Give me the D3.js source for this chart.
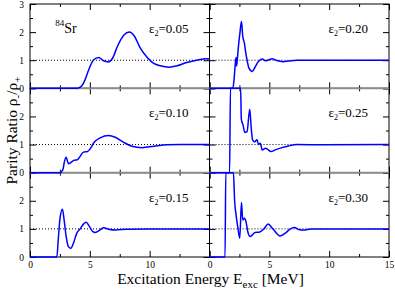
<!DOCTYPE html>
<html>
<head>
<meta charset="utf-8">
<script src="https://cdn.jsdelivr.net/npm/d3@7"></script>
<style>
  body { margin: 0; background: #fff; }
  text { font-family: "Liberation Serif", "Times New Roman", serif; }
</style>
</head>
<body>
<div id="chart"></div>
<script>
// # Data: energy [MeV] and parity ratio for each deformation.
const epsLabels = ['0.05', '0.20', '0.10', '0.25', '0.15', '0.30']

const e05 = [0, 3.8, 4.1, 4.35, 4.6, 4.9, 5.3, 5.75, 6.1, 6.55, 6.9, 7.3, 7.85, 8.3, 8.7, 9.22, 9.78, 10.34, 10.9, 11.6, 12.3, 13.1, 14.0, 14.7, 15]
const r05 = [0, 0, 0.02, 0.1, 0.3, 0.65, 1.01, 1.1, 0.99, 0.94, 1.07, 1.49, 1.9, 2.0, 1.87, 1.43, 1.11, 0.89, 0.8, 0.75, 0.8, 0.92, 1.01, 1.05, 1.04]

const e10 = [0, 2.5, 2.74, 2.88, 3.02, 3.21, 3.44, 3.69, 3.96, 4.19, 4.47, 4.8, 5.08, 5.36, 5.87, 6.57, 7.12, 7.82, 8.52, 9.36, 10.34, 11.45, 12.57, 15]
const r10 = [0, 0, 0.1, 0.4, 0.55, 0.32, 0.37, 0.44, 0.46, 0.58, 0.73, 0.75, 0.88, 1.08, 1.24, 1.32, 1.26, 1.08, 0.94, 0.89, 0.94, 0.99, 1.0, 1.0]

const e15 = [0, 2.24, 2.38, 2.51, 2.71, 2.85, 3.02, 3.21, 3.41, 3.63, 3.91, 4.19, 4.47, 4.69, 4.97, 5.25, 5.45, 5.7, 6.15, 6.57, 7.12, 8.1, 15]
const r15 = [0, 0, 0.73, 1.38, 1.7, 1.32, 0.73, 0.37, 0.31, 0.49, 0.85, 1.0, 1.17, 1.24, 1.08, 0.9, 0.87, 0.92, 1.04, 0.99, 0.96, 0.99, 1.0]

const e20 = [0, 1.95, 2.05, 2.15, 2.22, 2.26, 2.32, 2.42, 2.55, 2.67, 2.78, 2.92, 3.0, 3.14, 3.3, 3.58, 3.8, 4.08, 4.42, 4.67, 4.92, 5.25, 5.55, 6.17, 6.6, 7.3, 15]
const r20 = [0, 0, 0.3, 0.85, 1.1, 0.8, 1.0, 1.5, 2.0, 2.38, 1.85, 1.6, 1.35, 1.0, 0.72, 0.6, 0.75, 0.95, 1.04, 0.98, 1.01, 1.05, 1.0, 0.95, 0.97, 1.0, 1.0]

const e25 = [0, 1.68, 1.75, 2.6, 2.66, 2.8, 2.95, 3.14, 3.36, 3.5, 3.6, 3.78, 3.97, 4.1, 4.25, 4.4, 4.67, 4.86, 5.14, 5.5, 6.06, 6.6, 7.3, 9.5, 15]
const r25 = [0, 0, 3.0, 3.0, 1.9, 1.7, 1.43, 1.46, 2.26, 1.52, 1.17, 1.1, 1.17, 1.0, 1.05, 0.81, 0.87, 0.83, 0.75, 0.81, 0.89, 0.95, 1.0, 0.99, 1.0]

const e30 = [0, 1.3, 1.36, 2.0, 2.1, 2.2, 2.36, 2.53, 2.67, 2.78, 2.92, 3.05, 3.2, 3.4, 3.8, 4.2, 4.55, 4.9, 5.3, 5.9, 6.4, 6.75, 7.1, 7.5, 7.85, 8.5, 15]
const r30 = [0, 0, 3.0, 3.0, 2.0, 1.56, 1.08, 0.67, 1.94, 1.32, 1.38, 1.26, 0.9, 0.73, 0.87, 0.89, 1.0, 1.17, 1.0, 0.75, 0.87, 1.0, 1.05, 0.97, 0.96, 1.0, 1.0]

const xMajor = [0, 5, 10, 15]
const xMinor = [2.5, 7.5, 12.5]
const yMajor = [0, 1, 2, 3]
const yMinor = [0.5, 1.5, 2.5]

// # Layout.
const width = 395, height = 291
const plotLeft = 30, plotRight = 389, plotTop = 4, plotBottom = 257
const colW = (plotRight - plotLeft) / 2
const rowH = (plotBottom - plotTop) / 3

const series = [[e05, r05], [e20, r20], [e10, r10], [e25, r25], [e15, r15], [e30, r30]]
const panels = series.map((s, i) => {
    let col = i % 2, row = Math.floor(i / 2)
    let x = d3.scaleLinear().domain([0, 15]).range([plotLeft + col * colW, plotLeft + (col + 1) * colW])
    let y = d3.scaleLinear().domain([0, 3]).range([plotTop + (row + 1) * rowH, plotTop + row * rowH])
    return {col, row, x, y, eps: epsLabels[i], pts: d3.zip(s[0], s[1])}
})

const svg = d3.select('#chart')
    .append('svg')
    .attr('width', width)
    .attr('height', height)

// # Frames and inward ticks.
panels.forEach(p => {
    let g = svg.append('g')
    let [x0, x1] = p.x.range()
    let [y0, y1] = p.y.range()
    let axes = [
        [d3.axisBottom(p.x), `translate(0,${y0})`, xMajor, xMinor],
        [d3.axisTop(p.x),    `translate(0,${y1})`, xMajor, xMinor],
        [d3.axisLeft(p.y),   `translate(${x0},0)`, yMajor, yMinor],
        [d3.axisRight(p.y),  `translate(${x1},0)`, yMajor, yMinor],
    ]
    axes.forEach(([ax, tr, major, minor]) => {
        g.append('g').attr('transform', tr)
            .call(ax.tickValues(major).tickSize(-6).tickFormat(''))
            .call(a => a.select('.domain').remove())
        g.append('g').attr('transform', tr)
            .call(ax.tickValues(minor).tickSize(-3).tickFormat(''))
            .call(a => a.select('.domain').remove())
    })
    g.selectAll('.tick line').attr('stroke', '#000').attr('stroke-width', 1)

    // # Tick labels only on outer edges.
    if (p.row == 2) {
        let vals = p.col == 0 ? [0, 5, 10] : [0, 5, 10, 15]
        g.append('g').attr('transform', `translate(0,${y0})`)
            .call(d3.axisBottom(p.x).tickValues(vals).tickSize(0).tickPadding(4).tickFormat(d3.format('d')))
            .call(a => a.select('.domain').remove())
            .selectAll('text').attr('font-family', '"Liberation Serif", serif').attr('font-size', 9.5)
    }
    if (p.col == 0) {
        let vals = p.row == 0 ? [0, 1, 2, 3] : [0, 1, 2]
        g.append('g').attr('transform', `translate(${x0},0)`)
            .call(d3.axisLeft(p.y).tickValues(vals).tickSize(0).tickPadding(6).tickFormat(d3.format('d')))
            .call(a => a.select('.domain').remove())
            .selectAll('text').attr('font-family', '"Liberation Serif", serif').attr('font-size', 9.5)
    }

    g.append('rect')
        .attr('x', x0).attr('y', y1)
        .attr('width', x1 - x0).attr('height', y0 - y1)
        .attr('fill', 'none').attr('stroke', '#000').attr('stroke-width', 1)
})

// # Zero lines (grey) and ratio = 1 reference (dotted).
panels.forEach(p => {
    let [x0, x1] = p.x.range()
    if (p.row < 2) {
        svg.append('line')
            .attr('x1', x0).attr('x2', x1)
            .attr('y1', p.y(0)).attr('y2', p.y(0))
            .attr('stroke', '#8c8c8c').attr('stroke-width', 1.6)
    }
    svg.append('line')
        .attr('x1', x0).attr('x2', x1)
        .attr('y1', p.y(1)).attr('y2', p.y(1))
        .attr('stroke', '#000').attr('stroke-width', 1)
        .attr('stroke-dasharray', '1,2')
})

// # Curves (not clipped, spikes run into neighbouring panels).
panels.forEach(p => {
    let line = d3.line()
        .x(d => p.x(d[0]))
        .y(d => p.y(d[1]))
        .curve(d3.curveMonotoneX)
    svg.append('path')
        .datum(p.pts)
        .attr('d', line)
        .attr('fill', 'none')
        .attr('stroke', '#0000ff')
        .attr('stroke-width', 1.5)
})

// # Panel labels.
panels.forEach(p => {
    let [, x1] = p.x.range()
    let t = svg.append('text')
        .attr('x', x1 - 21)
        .attr('y', p.y(3) + 29)
        .attr('text-anchor', 'end')
        .attr('font-size', 13)
    t.append('tspan').text('ε')
    t.append('tspan').text('2').attr('font-size', 8).attr('dy', 3)
    t.append('tspan').text('=' + p.eps).attr('dy', -3)
})

let sr = svg.append('text')
    .attr('x', panels[0].x(2.1))
    .attr('y', panels[0].y(3) + 29)
    .attr('font-size', 14)
sr.append('tspan').text('84').attr('font-size', 9).attr('dy', -7)
sr.append('tspan').text('Sr').attr('dy', 7)

// # Axis titles.
let xt = svg.append('text')
    .attr('x', (plotLeft + plotRight) / 2 + 1)
    .attr('y', 284)
    .attr('text-anchor', 'middle')
    .attr('font-size', 15.5)
xt.append('tspan').text('Excitation Energy E')
xt.append('tspan').text('exc').attr('font-size', 11).attr('dy', 4)
xt.append('tspan').text(' [MeV]').attr('dy', -4)

let yt = svg.append('text')
    .attr('transform', `translate(17,${(plotTop + plotBottom) / 2}) rotate(-90)`)
    .attr('text-anchor', 'middle')
    .attr('font-size', 15.5)
yt.append('tspan').text('Parity Ratio ρ')
yt.append('tspan').text('-').attr('font-size', 11).attr('dy', 4)
yt.append('tspan').text('/ρ').attr('dy', -4)
yt.append('tspan').text('+').attr('font-size', 11).attr('dy', 4)
</script>
</body>
</html>
